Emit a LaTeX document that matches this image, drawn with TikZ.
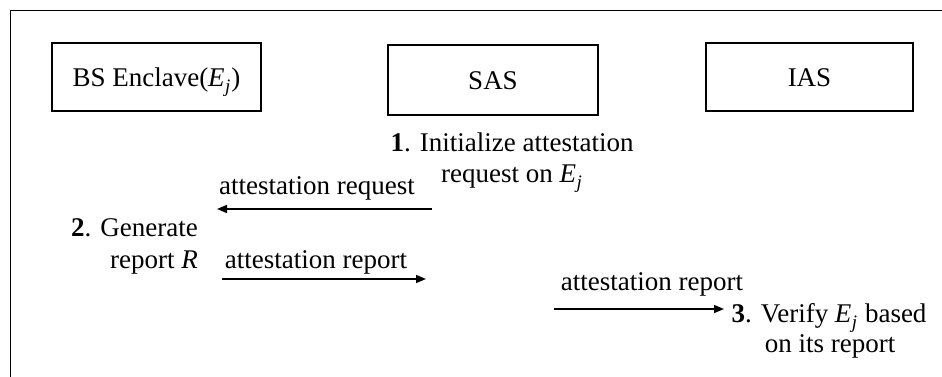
\documentclass[tikz,border=0pt]{standalone}
\usepackage{fontspec}
\setmainfont{Liberation Serif}
\usetikzlibrary{arrows.meta}
% enclave identifier E_j
\newcommand{\Ej}{\textit{E}\kern0.5pt\raisebox{-0.24em}{\fontsize{19}{19}\selectfont\textit{j}}\kern1pt}

\begin{document}
\begin{tikzpicture}[x=1pt,y=-1pt,
  font=\fontsize{27}{31}\selectfont,
  actor/.style={draw, line width=1.6pt, inner sep=0pt, text height=19pt, text depth=0pt},
  lbl/.style={anchor=base, inner sep=0pt},
  msg/.style={line width=1.5pt, -{Triangle[length=10pt,width=8pt]}}]
\useasboundingbox (0,0) rectangle (942,377);

% outer frame (runs off the page on the right and bottom)
\draw[line width=1.6pt] (10.5,400) -- (10.5,10.5) -- (960,10.5);

% parties
\node[actor, minimum width=209pt, minimum height=68pt] (bs)  at (156.5,77) {BS Enclave(\Ej)};
\node[actor, minimum width=210pt, minimum height=70pt] (sas) at (493,80)   {SAS};
\node[actor, minimum width=207pt, minimum height=68pt] (ias) at (809.5,77) {IAS};

% step 1 at SAS
\node[lbl] (s1a) at (512,151) {\textbf{1}. Initialize attestation};
\node[lbl] (s1b) at (512,182) {request on \Ej};

% step 2 at the enclave
\node[lbl, anchor=base east] (s2a) at (198,236) {\textbf{2}. Generate};
\node[lbl, anchor=base east] (s2b) at (198,268) {report \textit{R}};

% step 3 at IAS
\node[lbl] (s3a) at (829,322) {\textbf{3}. Verify \Ej{} based};
\node[lbl] (s3b) at (830,352) {on its report};

% messages
\coordinate (req0) at (432,209);
\coordinate (req1) at (217,209);
\coordinate (rep0) at (222,279);
\coordinate (rep1) at (426,279);
\coordinate (fwd0) at (554,309);
\coordinate (fwd1) at (724,309);

\draw[msg] (req0) -- (req1);
\draw[msg] (rep0) -- (rep1);
\draw[msg] (fwd0) -- (fwd1);

\node[lbl] (m1) at (317,194) {attestation request};
\node[lbl] (m2) at (316,268) {attestation report};
\node[lbl] (m3) at (652,290) {attestation report};
\end{tikzpicture}
\end{document}
